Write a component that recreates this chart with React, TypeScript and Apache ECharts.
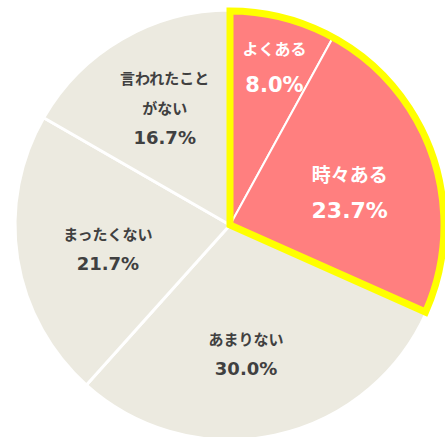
import React, { useEffect, useRef } from "react";
import * as echarts from "echarts";

const categories = ["よくある", "時々ある", "あまりない", "まったくない", "言われたこと\nがない"];
const values = [8.0, 23.7, 30.0, 21.7, 16.7];
const highlighted = [true, true, false, false, false];

const PINK = "#FF7F7F";
const BEIGE = "#ECEAE0";
const YELLOW = "#FFFF00";
const TEXT_DARK = "#404040";

// label offsets from the default inside position
const labelShift = [
  { dx: 17, dy: -51 },
  { dx: 15, dy: 2 },
  { dx: -7, dy: 20 },
  { dx: -13, dy: 6 },
  { dx: -10, dy: -22 },
];

export default function App() {
  const ref = useRef<HTMLDivElement>(null);
  useEffect(() => {
    if (!ref.current) return;
    const chart = echarts.init(ref.current, null, { renderer: "svg" });
    const data = categories.map((name, i) => {
      const hi = highlighted[i];
      return {
        name,
        value: values[i],
        itemStyle: {
          color: hi ? PINK : BEIGE,
          borderColor: "#FFFFFF",
          borderWidth: hi ? 2 : 3,
        },
        label: {
          rich: hi
            ? {
                n: { fontSize: i === 0 ? 16 : 19, fontWeight: "bold", color: "#FFFFFF", lineHeight: 37, fontFamily: "'Noto Sans CJK JP', sans-serif" },
                v: { fontSize: i === 0 ? 21 : 22, fontWeight: "bold", color: "#FFFFFF", lineHeight: 37, fontFamily: "'DejaVu Sans', sans-serif" },
              }
            : {
                n: { fontSize: 15, fontWeight: "bold", color: TEXT_DARK, lineHeight: 30, fontFamily: "'Noto Sans CJK JP', sans-serif" },
                v: { fontSize: 18, fontWeight: "bold", color: TEXT_DARK, lineHeight: 30, fontFamily: "'DejaVu Sans', sans-serif" },
              },
        },
      };
    });
    const hiSum = values.filter((_, i) => highlighted[i]).reduce((a, b) => a + b, 0);
    const restSum = values.filter((_, i) => !highlighted[i]).reduce((a, b) => a + b, 0);
    chart.setOption({
      animation: false,
      series: [
        {
          type: "pie",
          center: [230, 225],
          radius: [0, 215],
          startAngle: 90,
          clockwise: true,
          data,
          label: {
            show: true,
            position: "inside",
            align: "center",
            formatter: (p: any) =>
              p.name
                .split("\n")
                .map((s: string) => `{n|${s}}`)
                .join("\n") + `\n{v|${Number(p.value).toFixed(1)}%}`,
          },
          labelLine: { show: false },
          labelLayout: (p: any) => labelShift[p.dataIndex],
          emphasis: { disabled: true },
        },
        {
          type: "pie",
          center: [230, 225],
          radius: [0, 214],
          startAngle: 90,
          clockwise: true,
          silent: true,
          z: 5,
          label: { show: false },
          labelLine: { show: false },
          emphasis: { disabled: true },
          data: [
            {
              name: "hi",
              value: hiSum,
              itemStyle: { color: "rgba(0,0,0,0)", borderColor: YELLOW, borderWidth: 7, borderJoin: "miter" },
            },
            {
              name: "rest",
              value: restSum,
              itemStyle: { color: "rgba(0,0,0,0)", borderWidth: 0 },
            },
          ],
        },
      ],
    });
    return () => chart.dispose();
  }, []);
  return (
    <div
      ref={ref}
      style={{ position: "fixed", left: 0, top: 0, width: 445, height: 437, background: "#FFFFFF" }}
    />
  );
}
